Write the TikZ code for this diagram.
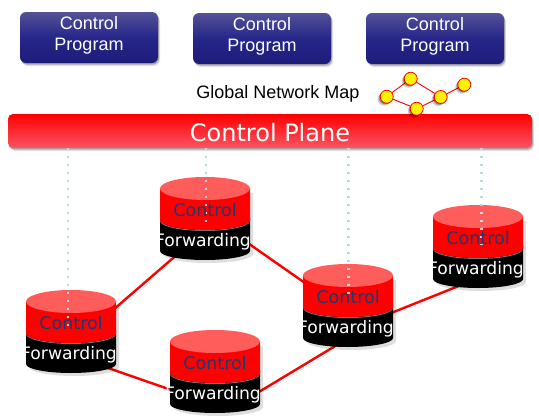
\documentclass[tikz,border=0pt]{standalone}
\usepackage{fontspec}
\setmainfont{Liberation Sans}
\newfontfamily\verd{DejaVu Sans}
\usetikzlibrary{shadows,backgrounds,calc}
\definecolor{navyA}{RGB}{84,82,150}
\definecolor{navyB}{RGB}{38,38,138}
\definecolor{navyC}{RGB}{30,28,122}
\definecolor{plRed}{RGB}{255,0,0}
\definecolor{plPink}{RGB}{250,84,98}
\definecolor{topPink}{RGB}{255,92,92}
\definecolor{ctlText}{RGB}{28,58,110}
\definecolor{dotBlue}{RGB}{176,219,226}
\tikzset{
  x=1pt,y=-1pt,
  softshadow/.style={
    general shadow={fill=black,opacity=.12,shadow xshift=2pt,shadow yshift=-3pt},
    general shadow={fill=black,opacity=.25,shadow xshift=1pt,shadow yshift=-1.5pt}},
  progbox/.style={rounded corners=6pt,minimum width=138pt,minimum height=51pt,inner sep=0pt,
    top color=navyA,bottom color=navyC,middle color=navyB,softshadow},
  progtext/.style={text=white,align=center,inner sep=0pt,font=\fontsize{18}{21}\selectfont,yshift=2.5pt},
  planebox/.style={rounded corners=5pt,minimum width=524pt,minimum height=34pt,inner sep=0pt,
    top color=plRed,bottom color=plPink,softshadow},
  planetext/.style={text=white,inner sep=0pt,font=\verd\fontsize{24}{26}\selectfont,yshift=-1.5pt},
  maplabel/.style={font=\fontsize{18}{20}\selectfont,inner sep=0pt,text=black},
  dot/.style={circle,draw=red,line width=.8pt,fill=yellow,minimum size=13pt,inner sep=0pt,
    general shadow={fill=black,opacity=.2,shadow xshift=-2.5pt,shadow yshift=-2.5pt},
    general shadow={fill=black,opacity=.35,shadow xshift=-1.2pt,shadow yshift=-1.2pt}},
  maplink/.style={red,line width=.9pt},
  link/.style={red,line width=2.4pt},
  dots/.style={dotBlue,line width=2.2pt,dash pattern=on 2.2pt off 5.8pt},
  cylanchor/.style={minimum width=90pt,minimum height=83pt,inner sep=0pt},
  ctltext/.style={text=ctlText,font=\verd\fontsize{17.5}{18}\selectfont,inner sep=0pt},
  fwdtext/.style={text=white,font=\verd\fontsize{17.2}{18}\selectfont,inner sep=0pt},
}
% name, left x, top y
\newcommand{\cylin}[3]{%
  \node[cylanchor,anchor=north west] (#1) at (#2,#3) {};
  \begin{scope}[shift={(#2,#3)}]
    \fill[black,opacity=.13] (3,16) -- (3,77) arc[start angle=180,end angle=0,x radius=45,y radius=9] -- (93,16) -- cycle;
    \fill[black] (0,40) -- (0,74) arc[start angle=180,end angle=0,x radius=45,y radius=9] -- (90,40) -- cycle;
    \fill[black!55] (0,44) arc[start angle=180,end angle=0,x radius=45,y radius=10] -- (90,43) arc[start angle=0,end angle=180,x radius=45,y radius=10] -- cycle;
    \fill[red] (0,11.5) -- (0,43) arc[start angle=180,end angle=0,x radius=45,y radius=10] -- (90,11.5) -- cycle;
    \fill[topPink] (45,11.5) ellipse[x radius=45,y radius=11.5];
  \end{scope}}
\newcommand{\cyltext}[3]{%
  \node[ctltext] (#1-c) at (#2+45,#3+33) {Control};
  \node[fwdtext] (#1-f) at (#2+43,#3+65) {Forwarding};}
\begin{document}
\begin{tikzpicture}
\useasboundingbox (0,0) rectangle (539,418);
\node[progbox,label={[progtext]center:Control\\Program}] (p1) at (89,37.5) {};
\node[progbox,label={[progtext]center:Control\\Program}] (p2) at (262,38.5) {};
\node[progbox,label={[progtext]center:Control\\Program}] (p3) at (435,38.5) {};
\node[planebox,label={[planetext]center:Control Plane}] (plane) at (270,131) {};
\node[maplabel] (gnm) at (278,93.5) {Global Network Map};
\cylin{a}{26}{290}
\cylin{b}{170}{330}
\cylin{c}{160}{177}
\cylin{d}{303}{264}
\cylin{e}{433}{205}
\begin{scope}[on background layer]
  \draw[link] ($(a.center)+(0,14.5)$) -- ($(c.center)+(0,11.5)$);
  \draw[link] ($(a.center)+(0,23.5)$) -- ($(b.center)+(0,33.5)$);
  \draw[link] ($(c.center)+(0,-5.5)$) -- ($(d.center)+(0,7.5)$);
  \draw[link] ($(d.center)+(0,32.5)$) -- ($(b.center)+(25,31.5)$);
  \draw[link] ($(d.center)+(0,24.5)$) -- ($(e.center)+(0,31.5)$);
\end{scope}
\coordinate (da) at (68,148);
\coordinate (dc) at (206,148);
\coordinate (dd) at (348.5,148);
\coordinate (de) at (481.5,148);
\coordinate (da2) at (68,330);
\coordinate (dc2) at (206,222);
\coordinate (dd2) at (348.5,295);
\coordinate (de2) at (481.5,245);
\draw[dots] (da) -- (da2);
\draw[dots] (dc) -- (dc2);
\draw[dots] (dd) -- (dd2);
\draw[dots] (de) -- (de2);
\cyltext{a}{26}{290}
\cyltext{b}{170}{330}
\cyltext{c}{160}{177}
\cyltext{d}{303}{264}
\cyltext{e}{433}{205}
\node[dot] (m1) at (386.7,96.7) {};
\node[dot] (m2) at (410.7,78.7) {};
\node[dot] (m3) at (416.7,108.7) {};
\node[dot] (m4) at (440.7,97) {};
\node[dot] (m5) at (464.3,84.7) {};
\begin{scope}[on background layer]
  \draw[maplink] (m1) -- (m2) -- (m4) -- (m5);
  \draw[maplink] (m1) -- (m3) -- (m4);
\end{scope}
\end{tikzpicture}
\end{document}
